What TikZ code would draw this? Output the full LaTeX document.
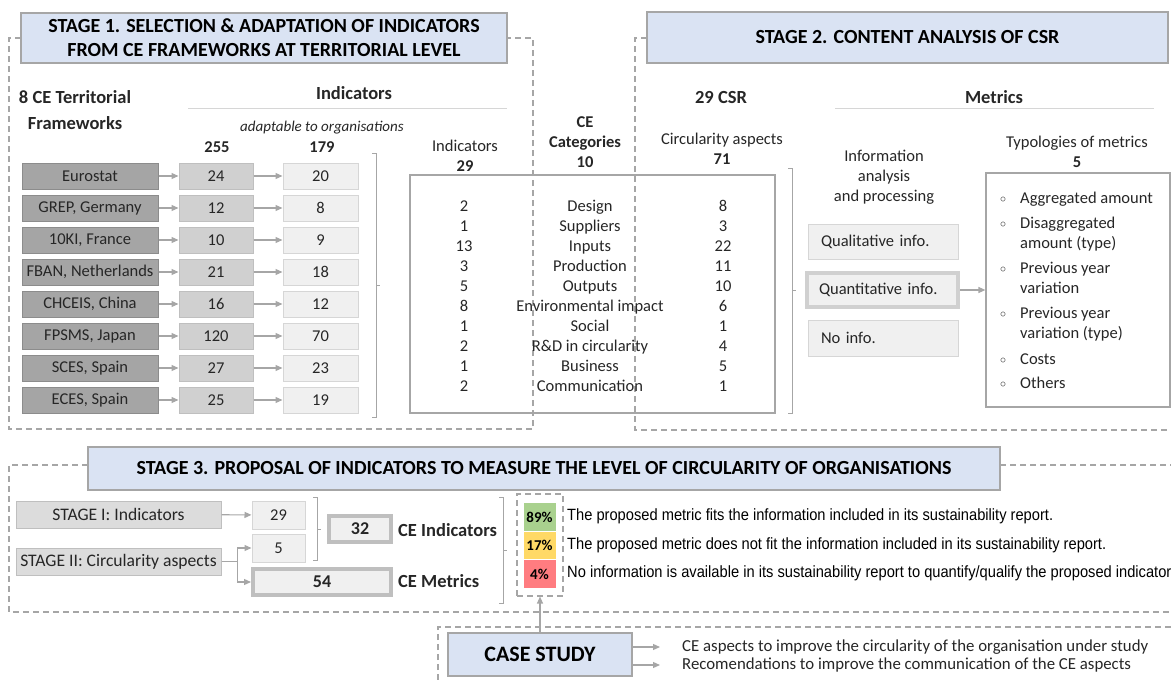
\documentclass[tikz,border=0pt]{standalone}
\usepackage{fontspec}
\setmainfont{Carlito}
\newfontfamily\narrowfont[FakeStretch=0.9]{Liberation Sans}
\usetikzlibrary{arrows.meta,positioning}

\definecolor{titleblue}{HTML}{DAE3F3}
\definecolor{edgegray}{HTML}{A6A6A6}
\definecolor{darkfill}{HTML}{A5A5A5}
\definecolor{darkedge}{HTML}{8C8C8C}
\definecolor{midfill}{HTML}{D0D0D0}
\definecolor{midedge}{HTML}{BFBFBF}
\definecolor{lightfill}{HTML}{F0F0F0}
\definecolor{lightedge}{HTML}{D6D6D6}
\definecolor{textgray}{HTML}{262626}
\definecolor{fitgreen}{HTML}{A9D18E}
\definecolor{fityellow}{HTML}{FFD966}
\definecolor{fitred}{HTML}{FF7C80}

\newcommand{\tybullet}{\makebox[20pt][l]{\raisebox{1pt}{$\scriptstyle\circ$}}}

\begin{document}
\begin{tikzpicture}[x=1pt,y=-1pt,>={Triangle[length=7pt,width=6pt]},node distance=32pt,on grid,
  text=textgray,font=\fontsize{16.5}{20}\selectfont]
\useasboundingbox (0,0) rectangle (1171,680);
\tikzset{frame/.style={draw=edgegray,dashed,dash pattern=on 6pt off 4pt,line width=1.1pt}}
\tikzset{titlebox/.style={draw=edgegray,line width=1.5pt,fill=titleblue,align=center,text=black,
  font=\bfseries\fontsize{20}{24}\selectfont}}
\tikzset{head/.style={align=center,font=\bfseries\fontsize{18.5}{26}\selectfont}}
\tikzset{flow/.style={->,draw=edgegray,line width=1.2pt}}
\tikzset{brace/.style={draw=edgegray,line width=1pt}}
\tikzset{rule/.style={draw=lightedge,line width=1pt}}

% dashed frames of the three stages and the case study
\draw[frame] (21,38) -- (9,38) -- (9,429) -- (533,429) -- (533,38) -- (507,38);
\draw[frame] (647,38) -- (635,38) -- (635,430) -- (1171,430);
\draw[frame] (88,465) -- (9,465) -- (9,612) -- (1171,612);
\draw[frame] (1000,465) -- (1171,465);
\draw[frame] (438,680) -- (438,627) -- (1171,627);

%%% stage 1
\node[titlebox,minimum width=486pt,minimum height=50pt] (StageOne) at (264,38)
  {STAGE 1. SELECTION \& ADAPTATION OF INDICATORS\\FROM CE FRAMEWORKS AT TERRITORIAL LEVEL};
\node[head] (Territorial) at (75,110) {8 CE Territorial\\Frameworks};
\node[head] (IndicatorsHead) at (354,93) {Indicators};
\draw[rule] (188,108) -- (507,108);
\node[font=\itshape\fontsize{15}{18}\selectfont] (Adaptable) at (322,128) {adaptable to organisations};
\node[font=\bfseries\fontsize{16.5}{20}\selectfont] (TotalAll) at (217,147) {255};
\node[font=\bfseries\fontsize{16.5}{20}\selectfont] (TotalAdapt) at (322,147) {179};

\tikzset{fwbox/.style={draw=darkedge,fill=darkfill,line width=1pt,minimum width=136pt,minimum height=26pt,inner sep=0pt}}
\tikzset{allbox/.style={draw=midedge,fill=midfill,line width=1pt,minimum width=74pt,minimum height=26pt,inner sep=0pt}}
\tikzset{adaptbox/.style={draw=lightedge,fill=lightfill,line width=1pt,minimum width=75pt,minimum height=26pt,inner sep=0pt}}
\node[fwbox] (Eurostat) at (90,176) {Eurostat};
\node[fwbox] (GREP) [below=of Eurostat] {GREP, Germany};
\node[fwbox] (TenKI) [below=of GREP] {10KI, France};
\node[fwbox] (FBAN) [below=of TenKI] {FBAN, Netherlands};
\node[fwbox] (CHCEIS) [below=of FBAN] {CHCEIS, China};
\node[fwbox] (FPSMS) [below=of CHCEIS] {FPSMS, Japan};
\node[fwbox] (SCES) [below=of FPSMS] {SCES, Spain};
\node[fwbox] (ECES) [below=of SCES] {ECES, Spain};

\node[allbox] (EurostatAll) [right=126pt of Eurostat] {24};
\node[allbox] (GREPAll) [right=126pt of GREP] {12};
\node[allbox] (TenKIAll) [right=126pt of TenKI] {10};
\node[allbox] (FBANAll) [right=126pt of FBAN] {21};
\node[allbox] (CHCEISAll) [right=126pt of CHCEIS] {16};
\node[allbox] (FPSMSAll) [right=126pt of FPSMS] {120};
\node[allbox] (SCESAll) [right=126pt of SCES] {27};
\node[allbox] (ECESAll) [right=126pt of ECES] {25};

\node[adaptbox] (EurostatAdapt) [right=104.5pt of EurostatAll] {20};
\node[adaptbox] (GREPAdapt) [right=104.5pt of GREPAll] {8};
\node[adaptbox] (TenKIAdapt) [right=104.5pt of TenKIAll] {9};
\node[adaptbox] (FBANAdapt) [right=104.5pt of FBANAll] {18};
\node[adaptbox] (CHCEISAdapt) [right=104.5pt of CHCEISAll] {12};
\node[adaptbox] (FPSMSAdapt) [right=104.5pt of FPSMSAll] {70};
\node[adaptbox] (SCESAdapt) [right=104.5pt of SCESAll] {23};
\node[adaptbox] (ECESAdapt) [right=104.5pt of ECESAll] {19};

\path (Eurostat) edge[flow] (EurostatAll) (EurostatAll) edge[flow] (EurostatAdapt)
      (GREP) edge[flow] (GREPAll) (GREPAll) edge[flow] (GREPAdapt)
      (TenKI) edge[flow] (TenKIAll) (TenKIAll) edge[flow] (TenKIAdapt)
      (FBAN) edge[flow] (FBANAll) (FBANAll) edge[flow] (FBANAdapt)
      (CHCEIS) edge[flow] (CHCEISAll) (CHCEISAll) edge[flow] (CHCEISAdapt)
      (FPSMS) edge[flow] (FPSMSAll) (FPSMSAll) edge[flow] (FPSMSAdapt)
      (SCES) edge[flow] (SCESAll) (SCESAll) edge[flow] (SCESAdapt)
      (ECES) edge[flow] (ECESAll) (ECESAll) edge[flow] (ECESAdapt);
\draw[brace] (372,153) -- (376,153) -- (376,417) -- (372,417) (376,285) -- (380,285);

% selected indicators per CE category
\node[align=center] (IndicatorsSel) at (465,156) {Indicators\\\textbf{29}};
\node[align=center,font=\bfseries\fontsize{16.5}{20}\selectfont] (CategoriesHead) at (585,142) {CE\\Categories\\10};
\node[draw=edgegray,line width=1.2pt,minimum width=365pt,minimum height=238pt] (CategoriesBox) at (592.5,294) {};
\node[align=center] (IndicatorsCol) at (464,296) {2\\1\\13\\3\\5\\8\\1\\2\\1\\2};
\node[align=center] (CategoriesCol) at (590,296) {Design\\Suppliers\\Inputs\\Production\\Outputs\\Environmental impact\\Social\\R\&D in circularity\\Business\\Communication};
\node[align=center] (AspectsCol) at (723,296) {8\\3\\22\\11\\10\\6\\1\\4\\5\\1};

%%% stage 2
\node[titlebox,minimum width=521pt,minimum height=51pt] (StageTwo) at (907.5,37.5) {STAGE 2. CONTENT ANALYSIS OF CSR};
\node[head] (CSRHead) at (721,97) {29 CSR};
\node[align=center] (AspectsHead) at (722,149) {Circularity aspects\\\textbf{71}};
\node[head] (MetricsHead) at (994,97) {Metrics};
\draw[rule] (835,108) -- (1154,108);
\node[align=center] (Processing) at (884,177) {Information\\analysis\\and processing};
\node[align=center] (TypologyHead) at (1077,152) {Typologies of metrics\\\textbf{5}};

\tikzset{infobox/.style={draw=lightedge,fill=lightfill,line width=1pt,text width=124pt,inner xsep=13pt,minimum height=35pt,align=left}}
\node[infobox] (Qualitative) at (883,241.5) {Qualitative info.};
\node[infobox,draw=midfill,line width=4pt,text width=127pt,inner xsep=12pt,minimum height=34pt] (Quantitative) at (882.5,290) {Quantitative info.};
\node[infobox,minimum height=36pt] (NoInfo) at (883,338) {No info.};

\node[draw=edgegray,line width=1.2pt,minimum width=184pt,minimum height=234pt] (Typologies) at (1078,290) {};
\node[anchor=west,align=left,inner sep=0pt] (TypologyList) at (1000,290.5)
  {\tybullet Aggregated amount\\[5pt]
   \tybullet Disaggregated\\\hspace*{20pt}amount (type)\\[5pt]
   \tybullet Previous year\\\hspace*{20pt}variation\\[5pt]
   \tybullet Previous year\\\hspace*{20pt}variation (type)\\[6pt]
   \tybullet Costs\\[4pt]
   \tybullet Others};
\path (Quantitative) edge[flow] (Typologies);
\draw[brace] (788,168) -- (792,168) -- (792,413) -- (788,413) (792,290) -- (796,290);

%%% stage 3
\node[titlebox,minimum width=912pt,minimum height=43pt] (StageThree) at (544,468.5)
  {STAGE 3. PROPOSAL OF INDICATORS TO MEASURE THE LEVEL OF CIRCULARITY OF ORGANISATIONS};
\tikzset{stagebox/.style={draw=midedge,fill=midfill!75!white,line width=1pt,minimum width=205pt,minimum height=27pt,inner sep=0pt,
  font=\fontsize{17.6}{20}\selectfont}}
\tikzset{numbox/.style={draw=lightedge,fill=lightfill,line width=1pt,minimum width=53pt,minimum height=28pt,inner sep=0pt}}
\tikzset{totalbox/.style={draw=midedge,fill=lightfill,line width=4pt,minimum height=26pt,inner sep=0pt,
  font=\bfseries\fontsize{18}{20}\selectfont}}
\node[stagebox] (StageI) at (118.5,514.5) {STAGE I: Indicators};
\node[stagebox] (StageII) at (118.5,561.5) {STAGE II: Circularity aspects};
\node[numbox] (TwentyNine) at (278.5,515) {29};
\node[numbox] (Five) at (278.5,548) {5};
\node[totalbox,minimum width=62pt] (ThirtyTwo) at (360,529) {32};
\node[totalbox,minimum width=138pt] (FiftyFour) at (322,582) {54};
\node[head,anchor=west,inner xsep=0pt] (CEIndicators) at (398,530) {CE Indicators};
\node[head,anchor=west,inner xsep=0pt] (CEMetrics) at (398,581) {CE Metrics};
\draw[flow] (StageI) -- (TwentyNine);
\draw[flow] (StageII.east) -- ++(16,0) |- (Five.west);
\draw[flow] (StageII.east) -- ++(16,0) |- (FiftyFour.west);
\draw[brace] (313,497) -- (317,497) -- (317,560) -- (313,560) (317,529) -- (321,529);
\draw[brace] (499,497) -- (503,497) -- (503,603) -- (499,603) (503,550) -- (507,550);

% share of proposed metrics
\node[draw=edgegray,dashed,dash pattern=on 6pt off 4pt,line width=1.1pt,minimum width=46pt,minimum height=102pt] (Rates) at (540,545) {};
\tikzset{cell/.style={draw=white,line width=0.6pt,minimum width=33pt,minimum height=28.5pt,inner sep=0pt,text=black,
  font=\bfseries\fontsize{15}{18}\selectfont}}
\node[cell,fill=fitgreen] (Fits) at (539.5,517) {89\%};
\node[cell,fill=fityellow] (NotFits) at (539.5,545.5) {17\%};
\node[cell,fill=fitred] (NoData) at (539.5,574) {4\%};
\tikzset{legend/.style={anchor=west,inner sep=0pt,text=black,font=\narrowfont\fontsize{16.3}{18}\selectfont}}
\node[legend] (FitsText) at (567,516) {The proposed metric fits the information included in its sustainability report.};
\node[legend] (NotFitsText) at (567,545) {The proposed metric does not fit the information included in its sustainability report.};
\node[legend] (NoDataText) at (567,573) {No information is available in its sustainability report to quantify/qualify the proposed indicator};

%%% case study
\node[titlebox,minimum width=184pt,minimum height=43pt,font=\bfseries\fontsize{22}{24}\selectfont] (CaseStudy) at (540,654.5) {CASE STUDY};
\draw[flow] (CaseStudy) -- (Rates);
\node[anchor=west,inner sep=0pt,font=\fontsize{16.8}{20}\selectfont] (Aspects) at (682,647) {CE aspects to improve the circularity of the organisation under study};
\node[anchor=west,inner sep=0pt,font=\fontsize{16.8}{20}\selectfont] (Recommend) at (682,665) {Recomendations to improve the communication of the CE aspects};
\draw[flow,shorten >=22pt] (CaseStudy.east |- Aspects.west) -- (Aspects.west);
\draw[flow,shorten >=22pt] (CaseStudy.east |- Recommend.west) -- (Recommend.west);
\end{tikzpicture}
\end{document}
